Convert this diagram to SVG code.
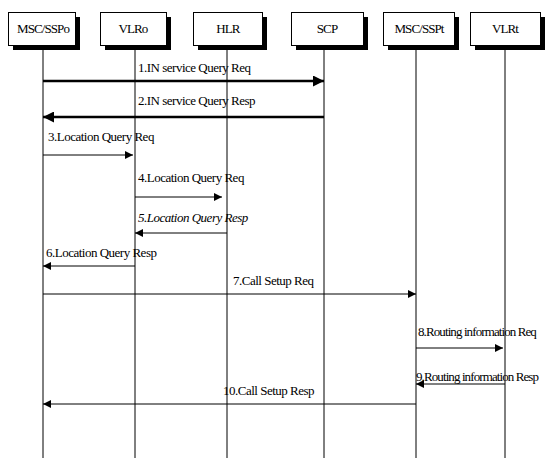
<svg xmlns="http://www.w3.org/2000/svg" width="547" height="458" viewBox="0 0 547 458">
<style>
.box{fill:#fff;stroke:#000;stroke-width:1}
.sh{fill:#000}
.lbl{font-family:"Liberation Serif",serif;font-size:13px;fill:#000;letter-spacing:-0.5px}
.nar{letter-spacing:-0.9px}
.nm{font-family:"Liberation Serif",serif;font-size:13px;fill:#000;letter-spacing:-0.9px;text-anchor:middle}
.life{stroke:#000;stroke-width:1}
.m{stroke:#000;stroke-width:1;fill:none}
.t{stroke:#000;stroke-width:2.5;fill:none}
</style>
<defs>
<marker id="a" viewBox="0 0 10 10" refX="10" refY="5" markerWidth="9" markerHeight="8" markerUnits="userSpaceOnUse" orient="auto"><path d="M0,0L10,5L0,10z" fill="#000"/></marker>
<marker id="b" viewBox="0 0 10 10" refX="10" refY="5" markerWidth="12" markerHeight="11" markerUnits="userSpaceOnUse" orient="auto"><path d="M0,0L10,5L0,10z" fill="#000"/></marker>
</defs>
<rect width="547" height="458" fill="#fff"/>
<g id="lifelines">
<line class="life" x1="43" y1="45" x2="43" y2="458"/>
<line class="life" x1="135" y1="45" x2="135" y2="458"/>
<line class="life" x1="227" y1="45" x2="227" y2="458"/>
<line class="life" x1="324" y1="45" x2="324" y2="458"/>
<line class="life" x1="416" y1="45" x2="416" y2="458"/>
<line class="life" x1="505" y1="45" x2="505" y2="458"/>
</g>
<g id="n1"><rect class="sh" x="13" y="17" width="67" height="33"/><rect class="box" x="8.5" y="12.5" width="67" height="33"/><text class="nm" x="43" y="33">MSC/SSPo</text></g>
<g id="n2"><rect class="sh" x="105" y="17" width="66" height="33"/><rect class="box" x="100.5" y="12.5" width="66" height="33"/><text class="nm" x="133" y="33">VLRo</text></g>
<g id="n3"><rect class="sh" x="198" y="17" width="69" height="33"/><rect class="box" x="193.5" y="12.5" width="69" height="33"/><text class="nm" x="228" y="33">HLR</text></g>
<g id="n4"><rect class="sh" x="296" y="17" width="72" height="33"/><rect class="box" x="291.5" y="12.5" width="72" height="33"/><text class="nm" x="327" y="33">SCP</text></g>
<g id="n5"><rect class="sh" x="388" y="17" width="71" height="33"/><rect class="box" x="383.5" y="12.5" width="71" height="33"/><text class="nm" x="419" y="33">MSC/SSPt</text></g>
<g id="n6"><rect class="sh" x="475" y="17" width="70" height="33"/><rect class="box" x="470.5" y="12.5" width="70" height="33"/><text class="nm" x="505" y="33">VLRt</text></g>
<g id="connectors">
<line class="t" x1="43" y1="81" x2="324" y2="81" marker-end="url(#b)"/>
<line class="t" x1="324" y1="117" x2="43" y2="117" marker-end="url(#b)"/>
<line class="m" x1="43" y1="155" x2="133" y2="155" marker-end="url(#a)"/>
<line class="m" x1="135" y1="197" x2="222" y2="197" marker-end="url(#a)"/>
<line class="m" x1="227" y1="233" x2="135" y2="233" marker-end="url(#a)"/>
<line class="m" x1="135" y1="266" x2="43" y2="266" marker-end="url(#a)"/>
<line class="m" x1="43" y1="294" x2="416" y2="294" marker-end="url(#a)"/>
<line class="m" x1="416" y1="348" x2="503" y2="348" marker-end="url(#a)"/>
<line class="m" x1="505" y1="384" x2="416" y2="384" marker-end="url(#a)"/>
<line class="m" x1="416" y1="404" x2="43" y2="404" marker-end="url(#a)"/>
<text class="lbl" x="138" y="72">1.IN service Query Req</text>
<text class="lbl" x="138" y="105">2.IN service Query Resp</text>
<text class="lbl" x="48" y="141">3.Location Query Req</text>
<text class="lbl" x="138" y="182">4.Location Query Req</text>
<text class="lbl" x="138" y="222" font-style="italic">5.Location Query Resp</text>
<text class="lbl" x="46" y="257">6.Location Query Resp</text>
<text class="lbl" x="233" y="285">7.Call Setup Req</text>
<text class="lbl nar" x="418" y="336">8.Routing information Req</text>
<text class="lbl nar" x="416" y="381">9.Routing information Resp</text>
<text class="lbl" x="223" y="395">10.Call Setup Resp</text>
</g>
</svg>
